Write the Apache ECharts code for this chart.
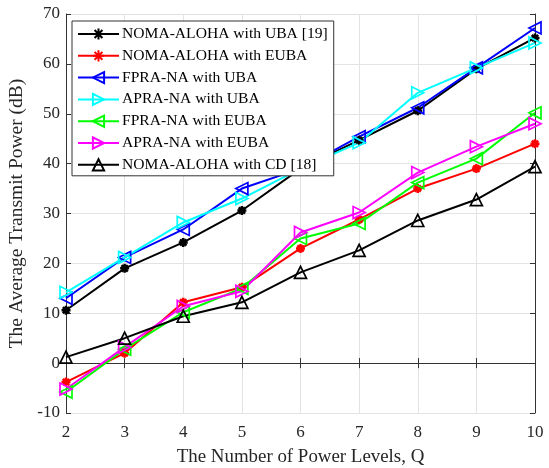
<!DOCTYPE html>
<html>
<head>
<meta charset="utf-8">
<script src="https://cdn.jsdelivr.net/npm/echarts@6/dist/echarts.min.js"></script>
<style>
  html, body { margin: 0; padding: 0; background: #fff; }
  #chart { width: 549px; height: 468px; }
</style>
</head>
<body>
<div id="chart"></div>
<script>
var levels = [2, 3, 4, 5, 6, 7, 8, 9, 10];

var nomaUba = [10.6, 19, 24.2, 30.6, 39, 44.7, 50.6, 59, 65.2];
var nomaEuba = [-3.8, 2, 12.2, 15.2, 23, 28.8, 35, 39, 44];
var fpraUba = [13, 21.2, 26.8, 35, 39, 45.4, 51.2, 59.2, 67.2];
var apraUba = [14.2, 21.2, 28.2, 33, 39, 44.2, 54.2, 59.2, 64.2];
var fpraEuba = [-5.8, 2.8, 10.2, 15, 25, 28, 36.2, 41, 50.2];
var apraEuba = [-5.2, 3.2, 11.4, 14.4, 26.2, 30.2, 38.2, 43.4, 48];
var nomaCd = [1.2, 5, 9.4, 12.2, 18.2, 22.6, 28.6, 32.8, 39.4];

var asterisk = 'path://M0,-10L0,10M-10,0L10,0M-7,-7L7,7M-7,7L7,-7';

function pairs(vals) {
    return levels.map(function (q, i) { return [q, vals[i]]; });
}

function mkSeries(name, vals, color, symbol, rotate, filled) {
    return {
        name: name,
        type: 'line',
        data: pairs(vals),
        symbol: symbol,
        symbolSize: filled ? 9 : 12,
        symbolRotate: rotate,
        showAllSymbol: true,
        lineStyle: {color: color, width: 2},
        itemStyle: {
            color: filled ? color : 'rgba(255,255,255,0)',
            borderColor: color,
            borderWidth: filled ? 2.5 : 1.7
        },
        emphasis: {disabled: true}
    };
}

var chart = echarts.init(document.getElementById('chart'));
var font = 'Liberation Serif';

var option = {
    animation: false,
    textStyle: {fontFamily: font},
    grid: {left: 66, right: 14, top: 14, bottom: 55, show: false, containLabel: false, outerBoundsMode: 'none'},
    legend: {
        orient: 'vertical',
        left: 72,
        top: 21,
        padding: [5, 6, 3, 5],
        itemGap: 5.8,
        itemWidth: 41,
        itemHeight: 14,
        backgroundColor: '#fff',
        borderColor: '#333',
        borderWidth: 1,
        borderRadius: 0,
        textStyle: {fontFamily: font, fontSize: 15.6, color: '#000', padding: [0, 0, 0, -2]},
        data: ['NOMA-ALOHA with UBA [19]', 'NOMA-ALOHA with EUBA', 'FPRA-NA with UBA',
            'APRA-NA with UBA', 'FPRA-NA with EUBA', 'APRA-NA with EUBA', 'NOMA-ALOHA with CD [18]']
    },
    xAxis: [{
        type: 'value',
        min: 2,
        max: 10,
        interval: 1,
        name: 'The Number of Power Levels, Q',
        nameLocation: 'middle',
        nameGap: 35,
        nameTextStyle: {fontFamily: font, fontSize: 18.9, color: '#262626'},
        axisLine: {lineStyle: {color: '#333', width: 1}},
        axisTick: {inside: true, length: 5, lineStyle: {color: '#333'}},
        axisLabel: {fontFamily: font, fontSize: 17, color: '#262626', margin: 11},
        splitLine: {show: true, lineStyle: {color: '#e3e3e3', width: 1}}
    }, {
        type: 'value',
        position: 'top',
        min: 2,
        max: 10,
        interval: 1,
        axisLine: {lineStyle: {color: '#333', width: 1}},
        axisTick: {inside: true, length: 5, lineStyle: {color: '#333'}},
        axisLabel: {show: false},
        splitLine: {show: false}
    }],
    yAxis: [{
        type: 'value',
        min: -10,
        max: 70,
        interval: 10,
        name: 'The Average Transmit Power (dB)',
        nameLocation: 'middle',
        nameGap: 23,
        nameTextStyle: {fontFamily: font, fontSize: 19.5, color: '#262626'},
        axisLine: {show: true, lineStyle: {color: '#333', width: 1}},
        axisTick: {show: true, inside: true, length: 5, lineStyle: {color: '#333'}},
        axisLabel: {fontFamily: font, fontSize: 17, color: '#262626', margin: 6},
        splitLine: {show: true, lineStyle: {color: '#e3e3e3', width: 1}}
    }, {
        type: 'value',
        position: 'right',
        min: -10,
        max: 70,
        interval: 10,
        axisLine: {show: true, lineStyle: {color: '#333', width: 1}},
        axisTick: {show: true, inside: true, length: 5, lineStyle: {color: '#333'}},
        axisLabel: {show: false},
        splitLine: {show: false}
    }],
    series: [
        mkSeries('NOMA-ALOHA with UBA [19]', nomaUba, '#000000', asterisk, 0, true),
        mkSeries('NOMA-ALOHA with EUBA', nomaEuba, '#ff0000', asterisk, 0, true),
        mkSeries('FPRA-NA with UBA', fpraUba, '#0000ff', 'triangle', 90, false),
        mkSeries('APRA-NA with UBA', apraUba, '#00ffff', 'triangle', -90, false),
        mkSeries('FPRA-NA with EUBA', fpraEuba, '#00ff00', 'triangle', 90, false),
        mkSeries('APRA-NA with EUBA', apraEuba, '#ff00ff', 'triangle', -90, false),
        mkSeries('NOMA-ALOHA with CD [18]', nomaCd, '#000000', 'triangle', 0, false)
    ]
};

chart.setOption(option);
</script>
</body>
</html>
